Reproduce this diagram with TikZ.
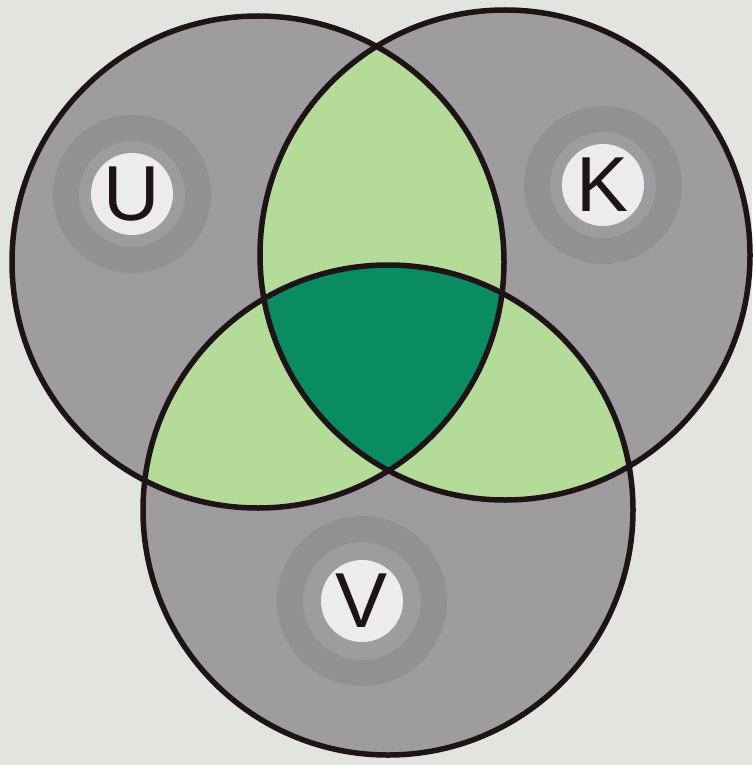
\documentclass[tikz,border=0pt]{standalone}
\usepackage{fontspec}
\setmainfont{Liberation Sans}
\definecolor{paper}{RGB}{226,228,223}
\definecolor{greyfill}{RGB}{158,156,158}
\definecolor{lgreen}{RGB}{180,219,152}
\definecolor{dgreen}{RGB}{10,140,98}
\definecolor{labfill}{RGB}{236,236,234}
\definecolor{ink}{RGB}{30,20,24}
\tikzset{
  outline/.style={draw=ink, line width=5.5pt},
  halo/.style={draw=black, opacity=0.07, line width=26pt},
  labelc/.style={circle, fill=labfill, minimum size=82pt, inner sep=0pt,
    text=ink, font=\fontsize{78}{78}\selectfont}
}
\def\circU{(258,262) circle (246pt)}
\def\circK{(505,255) circle (245pt)}
\def\circV{(388,510) circle (245pt)}
\begin{document}
\begin{tikzpicture}[x=1pt,y=-1pt]
\useasboundingbox (0,0) rectangle (752,765);
\fill[paper] (0,0) rectangle (752,765);
% single regions
\fill[greyfill] \circU;
\fill[greyfill] \circK;
\fill[greyfill] \circV;
% halos around labels
\draw[halo] (132,194) circle (66pt);
\draw[halo] (603,185) circle (66pt);
\draw[halo] (362,601) circle (72pt);
% pairwise intersections
\begin{scope}
  \clip \circU;
  \fill[lgreen] \circK;
  \fill[lgreen] \circV;
\end{scope}
\begin{scope}
  \clip \circK;
  \fill[lgreen] \circV;
\end{scope}
% triple intersection
\begin{scope}
  \clip \circU;
  \clip \circK;
  \fill[dgreen] \circV;
\end{scope}
% outlines
\draw[outline] \circU;
\draw[outline] \circK;
\draw[outline] \circV;
% labels
\node[labelc] (labU) at (132,194) {U};
\node[labelc] (labK) at (603,185) {K};
\node[labelc] (labV) at (362,601) {V};
\end{tikzpicture}
\end{document}
